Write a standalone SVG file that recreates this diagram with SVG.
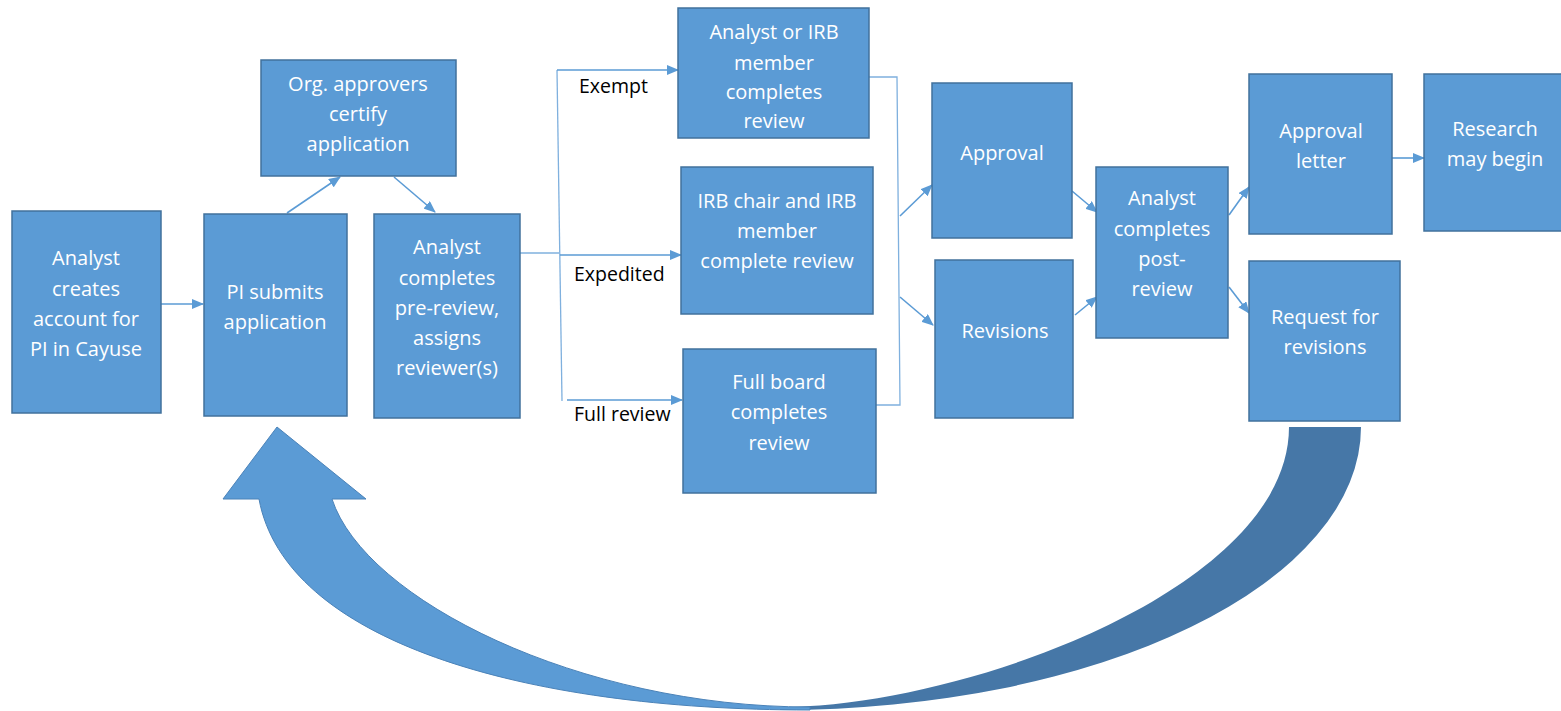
<svg xmlns="http://www.w3.org/2000/svg" width="1561" height="711" viewBox="0 0 1561 711">
<style>
.box{fill:#5b9bd5;stroke:#41719c;stroke-width:1.5}
.t{font-family:"Open Sans","Liberation Sans",sans-serif;font-size:20px;fill:#ffffff;text-anchor:middle}
.lbl{font-family:"Open Sans","Liberation Sans",sans-serif;font-size:19.5px;fill:#000000}
.c{fill:none;stroke:#5b9bd5;stroke-width:1.6}
.ca{fill:none;stroke:#5b9bd5;stroke-width:1.6;marker-end:url(#ah)}
.thin{fill:none;stroke:#7fb0de;stroke-width:1.3}
</style>
<defs>
<marker id="ah" markerUnits="userSpaceOnUse" markerWidth="12" markerHeight="10" refX="11" refY="5" orient="auto">
<path d="M0,0 L12,5 L0,10 z" fill="#5b9bd5"/>
</marker>
</defs>
<rect width="1561" height="711" fill="#ffffff"/>

<g id="loop-arrow">
<path d="M1289,427 L1361,427 A581,283 0 0 1 780,710 L780,707 C960,707 1289,590 1289,427 Z" fill="#4677a7"/>
<path d="M810,710 C520,710 285,640 259,499 L223,499 L277,427 L366,499 L332,499 C365,600 580,707 810,707 Z" fill="#5b9bd5" stroke="#4a82b8" stroke-width="1"/>
</g>

<g id="connectors">
<path class="ca" d="M161,304 L203,304"/>
<path class="ca" d="M287,213 L340,177"/>
<path class="ca" d="M394,177 L435,212"/>
<path class="thin" d="M520,253 L559,253"/>
<path class="thin" d="M557,70 L562,401"/>
<path class="ca" d="M557,70 L678,70"/>
<path class="ca" d="M560,255 L681,255"/>
<path class="ca" d="M567,400 L682,400"/>
<path class="thin" d="M869,77 L897,77 L900,405 L876,405"/>
<path class="ca" d="M900,216 L932,185"/>
<path class="ca" d="M900,297 L933,325"/>
<path class="ca" d="M1072,191 L1097,212"/>
<path class="ca" d="M1075,315 L1097,297"/>
<path class="ca" d="M1229,215 L1249,187"/>
<path class="ca" d="M1229,287 L1249,313"/>
<path class="ca" d="M1392,158 L1424,158"/>
<text class="lbl" x="579" y="93">Exempt</text>
<text class="lbl" x="574" y="281">Expedited</text>
<text class="lbl" x="574" y="421">Full review</text>
</g>

<g id="n-create-account">
<rect class="box" x="12" y="211" width="149" height="202"/>
<text class="t" x="86" y="265">Analyst</text>
<text class="t" x="86" y="296">creates</text>
<text class="t" x="86" y="326">account for</text>
<text class="t" x="86" y="356">PI in Cayuse</text>
</g>

<g id="n-pi-submits">
<rect class="box" x="204" y="214" width="143" height="202"/>
<text class="t" x="275" y="299">PI submits</text>
<text class="t" x="275" y="329">application</text>
</g>

<g id="n-org-approvers">
<rect class="box" x="261" y="60" width="195" height="116"/>
<text class="t" x="358" y="91">Org. approvers</text>
<text class="t" x="358" y="121">certify</text>
<text class="t" x="358" y="151">application</text>
</g>

<g id="n-pre-review">
<rect class="box" x="374" y="214" width="146" height="204"/>
<text class="t" x="447" y="254">Analyst</text>
<text class="t" x="447" y="285">completes</text>
<text class="t" x="447" y="315">pre-review,</text>
<text class="t" x="447" y="345">assigns</text>
<text class="t" x="447" y="375">reviewer(s)</text>
</g>

<g id="n-exempt-review">
<rect class="box" x="678" y="8" width="191" height="130"/>
<text class="t" x="774" y="39">Analyst or IRB</text>
<text class="t" x="774" y="70">member</text>
<text class="t" x="774" y="99">completes</text>
<text class="t" x="774" y="128">review</text>
</g>

<g id="n-expedited-review">
<rect class="box" x="681" y="167" width="192" height="147"/>
<text class="t" x="777" y="208">IRB chair and IRB</text>
<text class="t" x="777" y="238">member</text>
<text class="t" x="777" y="268">complete review</text>
</g>

<g id="n-full-review">
<rect class="box" x="683" y="349" width="193" height="144"/>
<text class="t" x="779" y="389">Full board</text>
<text class="t" x="779" y="419">completes</text>
<text class="t" x="779" y="450">review</text>
</g>

<g id="n-approval">
<rect class="box" x="932" y="83" width="140" height="155"/>
<text class="t" x="1002" y="160">Approval</text>
</g>

<g id="n-revisions">
<rect class="box" x="935" y="260" width="138" height="158"/>
<text class="t" x="1005" y="338">Revisions</text>
</g>

<g id="n-post-review">
<rect class="box" x="1096" y="167" width="132" height="171"/>
<text class="t" x="1162" y="205">Analyst</text>
<text class="t" x="1162" y="236">completes</text>
<text class="t" x="1162" y="266">post-</text>
<text class="t" x="1162" y="296">review</text>
</g>

<g id="n-approval-letter">
<rect class="box" x="1249" y="74" width="143" height="160"/>
<text class="t" x="1321" y="138">Approval</text>
<text class="t" x="1321" y="168">letter</text>
</g>

<g id="n-research">
<rect class="box" x="1424" y="74" width="140" height="157"/>
<text class="t" x="1495" y="136">Research</text>
<text class="t" x="1495" y="166">may begin</text>
</g>

<g id="n-request-revisions">
<rect class="box" x="1249" y="261" width="151" height="160"/>
<text class="t" x="1325" y="324">Request for</text>
<text class="t" x="1325" y="354">revisions</text>
</g>
</svg>
